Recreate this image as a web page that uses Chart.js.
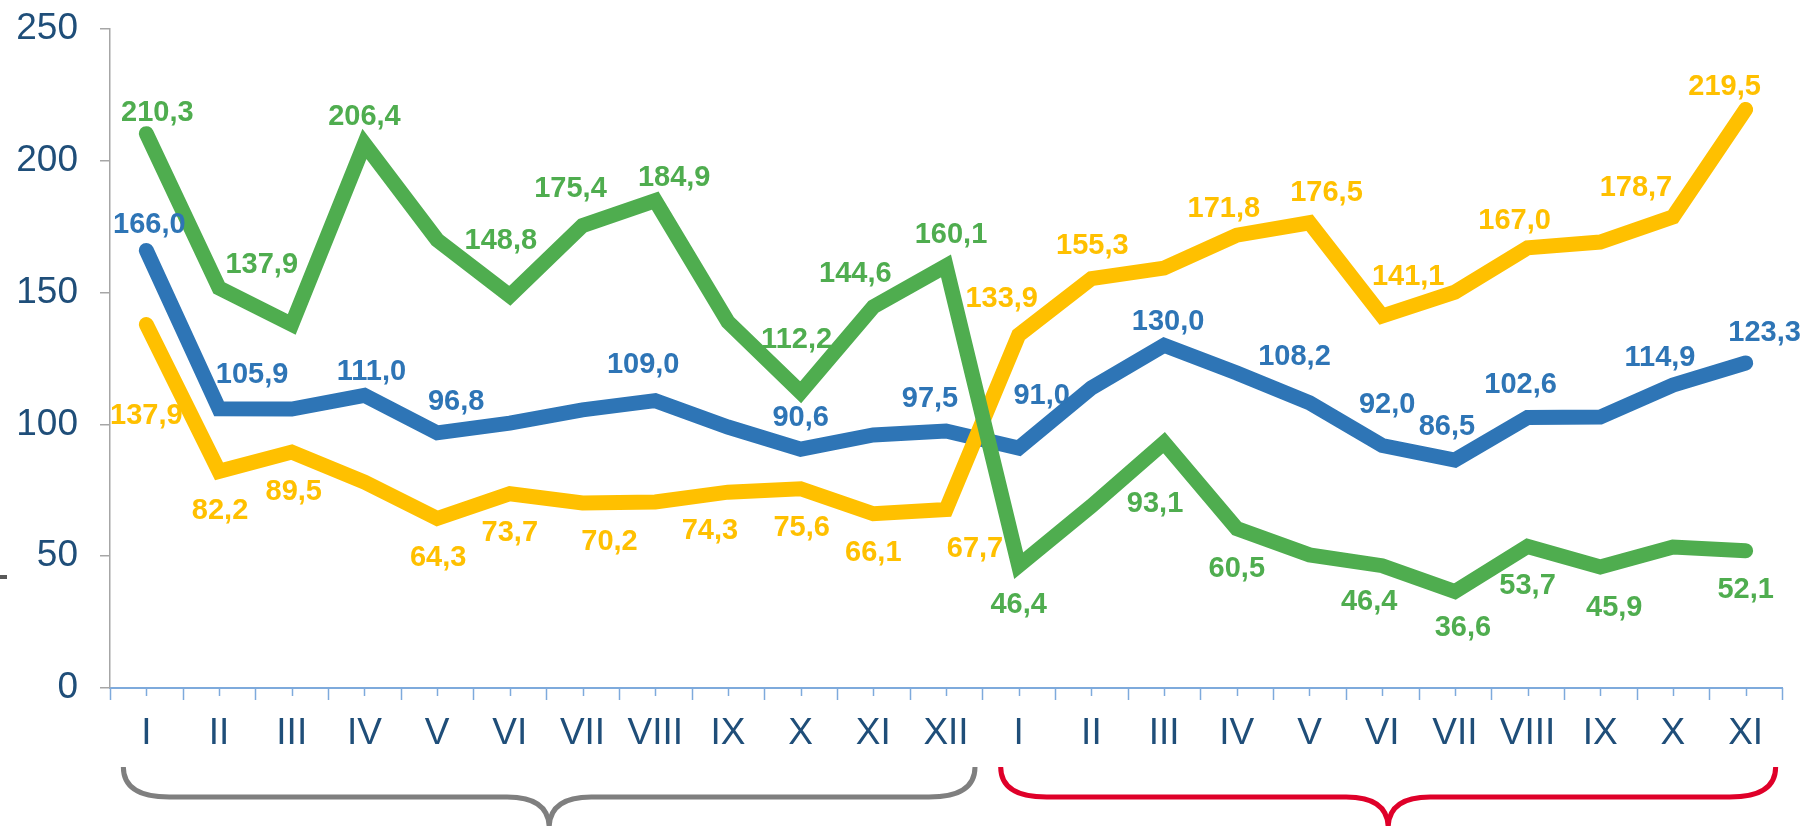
<!DOCTYPE html>
<html>
<head>
<meta charset="utf-8">
<script src="https://cdn.jsdelivr.net/npm/chart.js@4.4.1/dist/chart.umd.min.js"></script>
<style>
    html, body { margin: 0; padding: 0; background: #fff; }
    #wrap { width: 1803px; height: 826px; position: relative; }
</style>
</head>
<body>
<div id="wrap"><canvas id="chart"></canvas></div>
<script>
// Categories (two years of months)
const months = ['I', 'II', 'III', 'IV', 'V', 'VI', 'VII', 'VIII', 'IX', 'X', 'XI', 'XII',
    'I', 'II', 'III', 'IV', 'V', 'VI', 'VII', 'VIII', 'IX', 'X', 'XI'];

// Series values
const greenValues = [210.3, 151.8, 137.9, 206.4, 170.0, 148.8, 175.4, 184.9, 138.9, 112.2, 144.6, 160.1,
    46.4, 69.0, 93.1, 60.5, 50.5, 46.4, 36.6, 53.7, 45.9, 53.5, 52.1];
const yellowValues = [137.9, 82.2, 89.5, 78.1, 64.3, 73.7, 70.2, 70.6, 74.3, 75.6, 66.1, 67.7,
    133.9, 155.3, 159.3, 171.8, 176.5, 141.1, 150.2, 167.0, 169.2, 178.7, 219.5];
const blueValues = [166.0, 105.9, 105.8, 111.0, 96.8, 100.5, 105.5, 109.0, 99.0, 90.6, 96.0, 97.5,
    91.0, 113.8, 130.0, 119.5, 108.2, 92.0, 86.5, 102.6, 102.8, 114.9, 123.3];

// Y axis ticks
const yTicks = [0, 50, 100, 150, 200, 250];

// Which points carry a value label (1 = shown)
const greenShown = [1, 0, 1, 1, 0, 1, 1, 1, 0, 1, 1, 1, 1, 0, 1, 1, 0, 1, 1, 1, 1, 0, 1];
const yellowShown = [1, 1, 1, 0, 1, 1, 1, 0, 1, 1, 1, 1, 1, 1, 0, 1, 1, 1, 0, 1, 0, 1, 1];
const blueShown = [1, 1, 0, 1, 1, 0, 0, 1, 0, 1, 0, 1, 1, 0, 1, 0, 1, 1, 1, 1, 0, 1, 1];

// Label placement (pixel offset of label centre from its point)
const greenLabelPos = [[11, -23], null, [-30, -62], [0, -29], null, [-9, -57], [-12, -39], [19, -25], null, [-4, -55], [-18, -35], [5, -33],
    [0, 37], null, [-9, 59], [0, 38], null, [-13, 34], [8, 34], [0, 37], [14, 38], null, [0, 37]];
const yellowLabelPos = [[0, 89], [1, 37], [2, 37], null, [1, 37], [0, 37], [27, 37], null, [-18, 36], [1, 37], [0, 37], [29, 37],
    [-17, -39], [1, -35], null, [-13, -29], [17, -32], [26, -42], null, [-13, -29], null, [-37, -31], [-21, -25]];
const blueLabelPos = [[3, -28], [33, -36], null, [7, -26], [19, -33], null, null, [-12, -38], null, [0, -34], null, [-16, -34],
    [23, -55], null, [4, -26], null, [-15, -48], [5, -43], [-8, -35], [-7, -35], null, [-13, -30], [19, -32]];

const GREEN = '#4FAD4F';
const YELLOW = '#FFC000';
const BLUE = '#2E75B6';
const AXIS_TEXT = '#1F4E79';
const X_AXIS = '#7EAADC';

const fmt = v => v.toFixed(1).replace('.', ',');

// Value labels, axis tick marks and the two braces under the axis
const decorPlugin = {
    id: 'decor',
    afterDatasetsDraw(chart) {
        const ctx = chart.ctx;
        const xs = chart.scales.x;
        const bottom = chart.chartArea.bottom;
        const step = xs.getPixelForValue(1) - xs.getPixelForValue(0);

        // tick marks: long ones between categories, short ones at categories
        ctx.save();
        ctx.strokeStyle = X_AXIS;
        ctx.lineWidth = 1.5;
        for (let i = 0; i <= months.length; i++) {
            const x = Math.round(xs.getPixelForValue(0) + (i - 0.5) * step) + 0.5;
            ctx.beginPath();
            ctx.moveTo(x, bottom);
            ctx.lineTo(x, bottom + 12);
            ctx.stroke();
        }
        for (let i = 0; i < months.length; i++) {
            const x = Math.round(xs.getPixelForValue(i)) + 0.5;
            ctx.beginPath();
            ctx.moveTo(x, bottom);
            ctx.lineTo(x, bottom + 8);
            ctx.stroke();
        }
        ctx.restore();

        // data labels
        const sets = [
            [greenValues, greenShown, greenLabelPos, GREEN],
            [yellowValues, yellowShown, yellowLabelPos, YELLOW],
            [blueValues, blueShown, blueLabelPos, BLUE]
        ];
        ctx.save();
        ctx.font = 'bold 29px "Liberation Sans", Arial, sans-serif';
        ctx.textAlign = 'center';
        ctx.textBaseline = 'alphabetic';
        sets.forEach(([vals, shown, pos, color], di) => {
            const meta = chart.getDatasetMeta(di);
            ctx.fillStyle = color;
            vals.forEach((v, i) => {
                if (!shown[i] || !pos[i]) return;
                const pt = meta.data[i];
                ctx.fillText(fmt(v), pt.x + pos[i][0], pt.y + pos[i][1] + 10.5);
            });
        });
        ctx.restore();

        // braces
        const braceTop = bottom + 79;
        const braceBar = bottom + 109;
        const braceTip = bottom + 140;
        const drawBrace = (x0, x1, color) => {
            const xm = (x0 + x1) / 2;
            ctx.beginPath();
            ctx.moveTo(x0, braceTop);
            ctx.quadraticCurveTo(x0, braceBar, x0 + 46, braceBar);
            ctx.lineTo(xm - 42, braceBar);
            ctx.quadraticCurveTo(xm, braceBar, xm, braceTip);
            ctx.moveTo(xm, braceTip);
            ctx.quadraticCurveTo(xm, braceBar, xm + 42, braceBar);
            ctx.lineTo(x1 - 46, braceBar);
            ctx.quadraticCurveTo(x1, braceBar, x1, braceTop);
            ctx.strokeStyle = color;
            ctx.stroke();
        };
        ctx.save();
        ctx.lineWidth = 5;
        ctx.lineCap = 'butt';
        drawBrace(xs.getPixelForValue(0) - 23, xs.getPixelForValue(11) + 29, '#7F7F7F');
        drawBrace(xs.getPixelForValue(12) - 18, xs.getPixelForValue(22) + 30, '#DF0029');
        ctx.restore();

        // small mark at the left edge
        ctx.save();
        ctx.fillStyle = '#595959';
        ctx.fillRect(0, 575, 7, 4);
        ctx.restore();
    }
};

const lineStyle = {
    borderWidth: 15,
    pointRadius: 0,
    pointHoverRadius: 0,
    tension: 0,
    fill: false,
    borderCapStyle: 'round',
    borderJoinStyle: 'miter'
};

new Chart(document.getElementById('chart'), {
    type: 'line',
    data: {
        labels: months,
        datasets: [
            { ...lineStyle, data: greenValues, borderColor: GREEN },
            { ...lineStyle, data: yellowValues, borderColor: YELLOW },
            { ...lineStyle, data: blueValues, borderColor: BLUE }
        ]
    },
    options: {
        responsive: true,
        maintainAspectRatio: false,
        devicePixelRatio: 1,
        animation: false,
        layout: { padding: { left: 0, right: 21, top: 29, bottom: 0 } },
        plugins: {
            legend: { display: false },
            tooltip: { enabled: false }
        },
        scales: {
            x: {
                type: 'category',
                offset: true,
                grid: { display: false },
                border: { display: true, color: X_AXIS, width: 2 },
                ticks: {
                    color: AXIS_TEXT,
                    font: { family: '"Liberation Sans", Arial, sans-serif', size: 37 },
                    padding: 16,
                    maxRotation: 0,
                    autoSkip: false
                },
                afterFit: s => { s.height = 138; }
            },
            y: {
                min: 0,
                max: 250,
                afterBuildTicks: s => { s.ticks = yTicks.map(v => ({ value: v })); },
                grid: {
                    drawOnChartArea: false,
                    drawTicks: true,
                    tickLength: 10,
                    color: '#A6A6A6',
                    lineWidth: 1.5
                },
                border: { display: true, color: '#A6A6A6', width: 1.5 },
                ticks: {
                    color: AXIS_TEXT,
                    font: { family: '"Liberation Sans", Arial, sans-serif', size: 37 },
                    padding: 22
                },
                afterFit: s => {
                    s.width = 110;
                    s.paddingTop = 0;
                    s.paddingBottom = 0;
                }
            }
        }
    },
    plugins: [decorPlugin]
});
</script>
</body>
</html>
